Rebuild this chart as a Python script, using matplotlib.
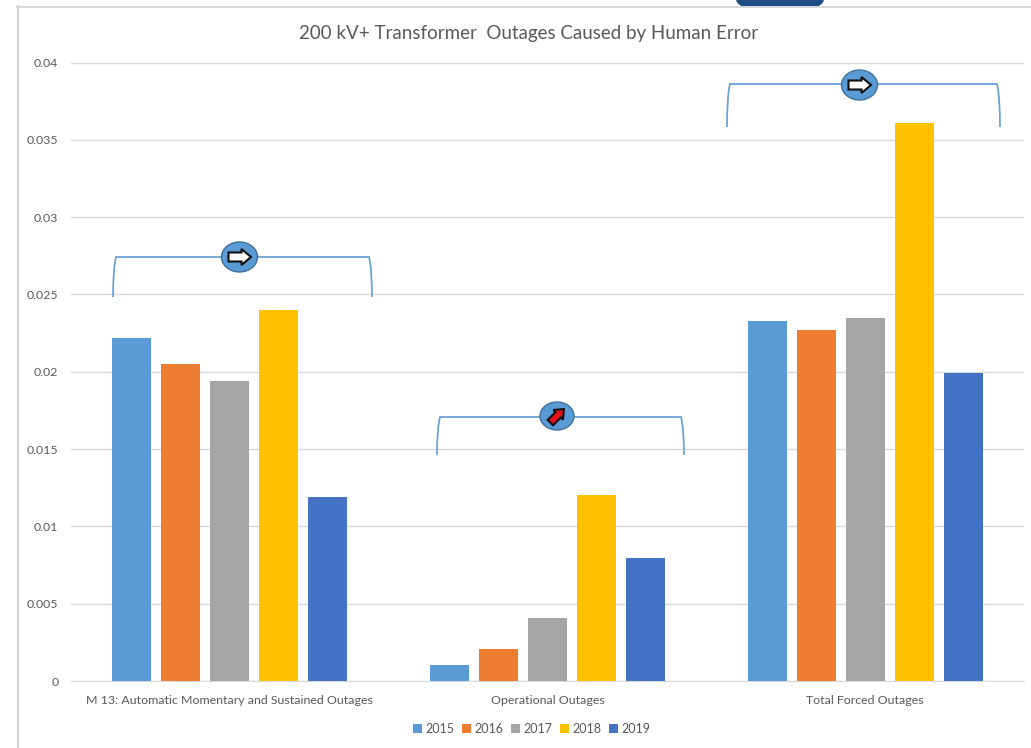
import numpy as np
import matplotlib
matplotlib.use("Agg")
import matplotlib.pyplot as plt
from matplotlib.patches import Ellipse, Polygon, PathPatch, Rectangle
from matplotlib.path import Path

plt.rcParams['font.family'] = ['Lato', 'DejaVu Sans']

# Data
categories = ["M 13: Automatic Momentary and Sustained Outages", "Operational Outages", "Total Forced Outages"]
years = ["2015", "2016", "2017", "2018", "2019"]
v2015 = [0.0222, 0.00105, 0.0233]
v2016 = [0.0205, 0.0021, 0.0227]
v2017 = [0.0194, 0.0041, 0.0235]
v2018 = [0.0240, 0.0120, 0.0361]
v2019 = [0.0119, 0.00795, 0.0199]
series = [v2015, v2016, v2017, v2018, v2019]
colors = ["#5B9BD5", "#ED7D31", "#A5A5A5", "#FFC000", "#4472C4"]
yticks = [0, 0.005, 0.01, 0.015, 0.02, 0.025, 0.03, 0.035, 0.04]
ylabels = ["0", "0.005", "0.01", "0.015", "0.02", "0.025", "0.03", "0.035", "0.04"]

W, H = 1031, 748
fig = plt.figure(figsize=(W/100, H/100), dpi=100)
ax = fig.add_axes([71/W, 1-681/H, (1024-71)/W, (681-62.5)/H])

x = np.arange(len(categories))
step = 49/317.7
width = 39/317.7
for i in range(len(years)):
    ax.bar(x + (i-2)*step, series[i], width, color=colors[i], label=years[i], zorder=3)

ax.set_xlim(-0.5, 2.5)
ax.set_ylim(0, 0.04)
ax.set_yticks(yticks)
ax.set_yticklabels(ylabels)
ax.set_xticks(x)
ax.set_xticklabels(categories)
ax.tick_params(length=0, labelsize=8.95, labelcolor="#595959", pad=10)
ax.tick_params(axis='y', pad=9)
ax.grid(axis='y', color="#D9D9D9", lw=1, zorder=0)
for s in ['top', 'right', 'left']:
    ax.spines[s].set_visible(False)
ax.spines['bottom'].set_color("#D9D9D9")

fig.text(529/W, 1-33/H, "200 kV+ Transformer  Outages Caused by Human Error", ha='center', va='center',
         fontsize=13.5, color="#595959")
leg = fig.legend(loc='center', bbox_to_anchor=(532/W, 1-729/H), ncol=5, frameon=False, fontsize=9,
                 handlelength=0.7, handleheight=0.7, handletextpad=0.3, columnspacing=0.6, labelcolor="#595959")

# overlay in picture pixels for the hand drawn shapes
ov = fig.add_axes([0, 0, 1, 1], zorder=5)
ov.set_xlim(0, W)
ov.set_ylim(H, 0)
ov.axis('off')
ov.patch.set_alpha(0)

# slide frame and the blue shape cut off at the top
ov.plot([17, W], [6.5, 6.5], color="#D4D4D4", lw=1.3)
ov.plot([17.5, 17.5], [6, H], color="#D4D4D4", lw=1.5)
top_shape = Ellipse((780, 0), 86, 24, color="#1F4E86")
ov.add_patch(top_shape)
top_shape.set_clip_path(Rectangle((700, 0), 160, 6, transform=ov.transData))


def bracket(left, right, top, bottom):
    verts = [(left, bottom), (left, top+12), (left+3, top),
             (right-3, top), (right, top+12), (right, bottom)]
    codes = [Path.MOVETO, Path.CURVE3, Path.CURVE3,
             Path.LINETO, Path.CURVE3, Path.CURVE3]
    ov.add_patch(PathPatch(Path(verts, codes), fc='none', ec="#6FA3D6", lw=1.3))


def badge(cx, cy, rx, ry, angle, face, scale=1.0):
    ov.add_patch(Ellipse((cx, cy), 2*rx, 2*ry, fc="#5B9BD5", ec="#41719C", lw=1, zorder=6))
    shape = np.array([[-11, -4.5], [2, -4.5], [2, -8], [11.5, 0], [2, 8], [2, 4.5], [-11, 4.5]]) * scale
    t = np.deg2rad(angle)
    rot = np.array([[np.cos(t), np.sin(t)], [-np.sin(t), np.cos(t)]])
    pts = shape @ rot.T + [cx, cy]
    ov.add_patch(Polygon(pts, closed=True, fc=face, ec="#111111", lw=1.5, zorder=7))


bracket(113, 372, 257, 297)
badge(239.5, 257, 18, 15, 0, "white")
bracket(437, 684, 417, 455)
badge(557, 416, 17, 14, 45, "#E3101A", 0.85)
bracket(727, 1000, 84, 127)
badge(859.5, 85, 18, 15, 0, "white")

fig.savefig("out.png", dpi=100)
